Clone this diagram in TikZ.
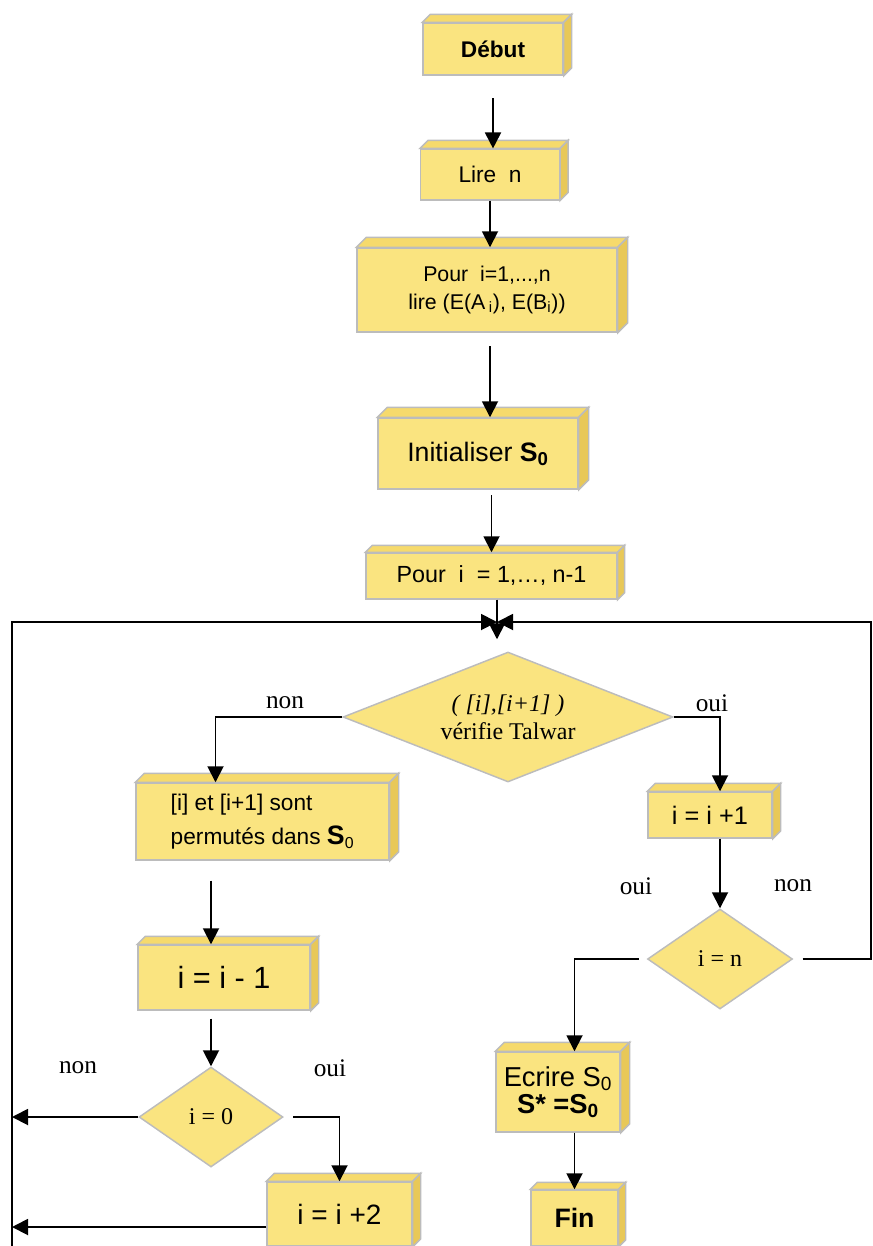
\documentclass[tikz,border=0pt]{standalone}
\usepackage{fontspec}
\setmainfont{Liberation Serif}
\setsansfont{Liberation Sans}
\usetikzlibrary{arrows.meta,shapes.geometric,calc}

\definecolor{jaune}{RGB}{250,228,128}
\definecolor{jaunehaut}{RGB}{246,218,108}
\definecolor{jaunecote}{RGB}{232,200,88}
\definecolor{gris}{RGB}{188,188,188}
\newcommand{\taille}[2]{\fontsize{#1}{#2}\selectfont}

\begin{document}
\begin{tikzpicture}[x=0.75pt,y=-0.75pt,>={Triangle[length=12pt,width=12pt]},
  boite/.style={draw=gris,fill=jaune,line width=1.1pt,align=center,inner sep=2pt},
  losange/.style={diamond,draw=gris,fill=jaune,line width=1.1pt,align=center,inner sep=0pt},
  etiq/.style={font=\taille{19}{22}},
  lien/.style={->,line width=1.4pt}]
\useasboundingbox (0,0) rectangle (872,1246);

\node[boite,minimum width=105pt,minimum height=39pt,font=\sffamily\bfseries\taille{17}{20}] (debut) at (493,49) {Début};
\node[boite,minimum width=104pt,minimum height=38pt,font=\sffamily\taille{17}{20}] (lire) at (490,174.5) {Lire\ \ n};
\node[boite,minimum width=195pt,minimum height=63pt,font=\sffamily\taille{16}{21}] (pour) at (487,290)
  {Pour\ \ i=1,...,n\\ lire (E(A\,\textsubscript{i}), E(B\textsubscript{i}))};
\node[boite,minimum width=150pt,minimum height=53.25pt,font=\sffamily\taille{20}{24}] (init) at (478,453.5)
  {Initialiser \textbf{S\textsubscript{0}}};
\node[boite,minimum width=188pt,minimum height=34.5pt,font=\sffamily\taille{17.5}{20}] (pourn) at (491.5,576)
  {Pour\ \ i\ \ = 1,…, n-1};
\node[losange,minimum width=247.5pt,minimum height=97.5pt,shape aspect=2.5,font=\taille{18}{21}] (talwar) at (508,717)
  {\textit{( [i],[i+1] )}\\vérifie Talwar};
\node[boite,minimum width=189.75pt,minimum height=57.75pt,align=left,font=\sffamily\taille{17}{26}] (permut) at (262.5,821.5)
  {[i] et [i+1] sont\\permutés dans {\taille{20}{26}\textbf{S}}\textsubscript{0}};
\node[boite,minimum width=93pt,minimum height=34.5pt,font=\sffamily\taille{19}{22}] (incr) at (710,815) {i = i +1};
\node[losange,minimum width=108.75pt,minimum height=75pt,shape aspect=1.45,font=\taille{18}{20}] (testn) at (720,959) {i = n};
\node[boite,minimum width=129pt,minimum height=48.75pt,font=\sffamily\taille{23}{26}] (decr) at (224,977.5) {i = i - 1};
\node[losange,minimum width=108pt,minimum height=75pt,shape aspect=1.45,font=\taille{18}{20}] (test0) at (211,1117) {i = 0};
\node[boite,minimum width=108.75pt,minimum height=48pt,font=\sffamily\taille{21}{24}] (plus2) at (339.5,1214) {i = i +2};
\node[boite,minimum width=93pt,minimum height=60pt,font=\sffamily\taille{20.5}{20}] (ecrire) at (558,1092)
  {Ecrire S\textsubscript{0}\\ \textbf{S* =S\textsubscript{0}}};
\node[boite,minimum width=65.25pt,minimum height=42pt,font=\sffamily\bfseries\taille{20}{24}] (fin) at (574.5,1218) {Fin};

\foreach \n/\d in {debut/8,lire/8,pour/10,init/10,pourn/7,permut/9,incr/8,decr/8,plus2/8,ecrire/9,fin/7}{
  \filldraw[draw=gris,fill=jaunehaut,line width=1.1pt] (\n.north west) -- ++(\d,-\d) -- ($(\n.north east)+(\d,-\d)$) -- (\n.north east) -- cycle;
  \filldraw[draw=gris,fill=jaunecote,line width=1.1pt] (\n.north east) -- ++(\d,-\d) -- ($(\n.south east)+(\d,-\d)$) -- (\n.south east) -- cycle;
}

\node[etiq] (non1) at (285,703) {non};
\node[etiq] (oui1) at (712,703) {oui};
\node[etiq] (oui2) at (636,886) {oui};
\node[etiq] (non2) at (793,886) {non};
\node[etiq] (non3) at (78,1068) {non};
\node[etiq] (oui3) at (330,1068) {oui};

\coordinate (boucle) at (497,622);
\coordinate (coinG) at (12,622);
\coordinate (coinD) at (871,622);
\coordinate (basG) at (12,1250);
\coordinate (p2g) at ([yshift=-9.75pt]plus2.west);

\draw[lien,shorten <=17pt] (debut.south) -- (debut.south |- lire.north);
\draw[lien] (lire.south) -- (lire.south |- pour.north);
\draw[lien,shorten <=10pt] (lire.south |- pour.south) -- (lire.south |- init.north);
\draw[lien,shorten <=4pt] (pourn.north |- init.south) -- (pourn.north);
\draw[lien,shorten >=9pt] (boucle |- pourn.south) -- (boucle |- talwar.north);
\draw[lien] (basG) -- (coinG) -- (boucle);
\draw[lien,shorten <=7pt] (testn.east) -- (testn.east -| coinD) -- (coinD) -- (boucle);
\draw[lien] (talwar.west) -| ([xshift=-35.25pt]permut.north);
\draw[lien] (talwar.east) -| (testn.north |- incr.north);
\draw[lien] (testn.north |- incr.south) -- (testn.north);
\draw[lien,shorten <=6pt] (testn.west) -| (fin.north |- ecrire.north);
\draw[lien] (fin.north |- ecrire.south) -- (fin.north);
\draw[lien,shorten <=15pt] (test0.north |- permut.south) -- (test0.north |- decr.north);
\draw[lien,shorten <=6pt] (test0.north |- decr.south) -- (test0.north);
\draw[lien] (test0.west) -- (test0.west -| coinG);
\draw[lien,shorten <=7pt] (test0.east) -| (plus2.north);
\draw[lien] (p2g) -- (p2g -| coinG);
\end{tikzpicture}
\end{document}
